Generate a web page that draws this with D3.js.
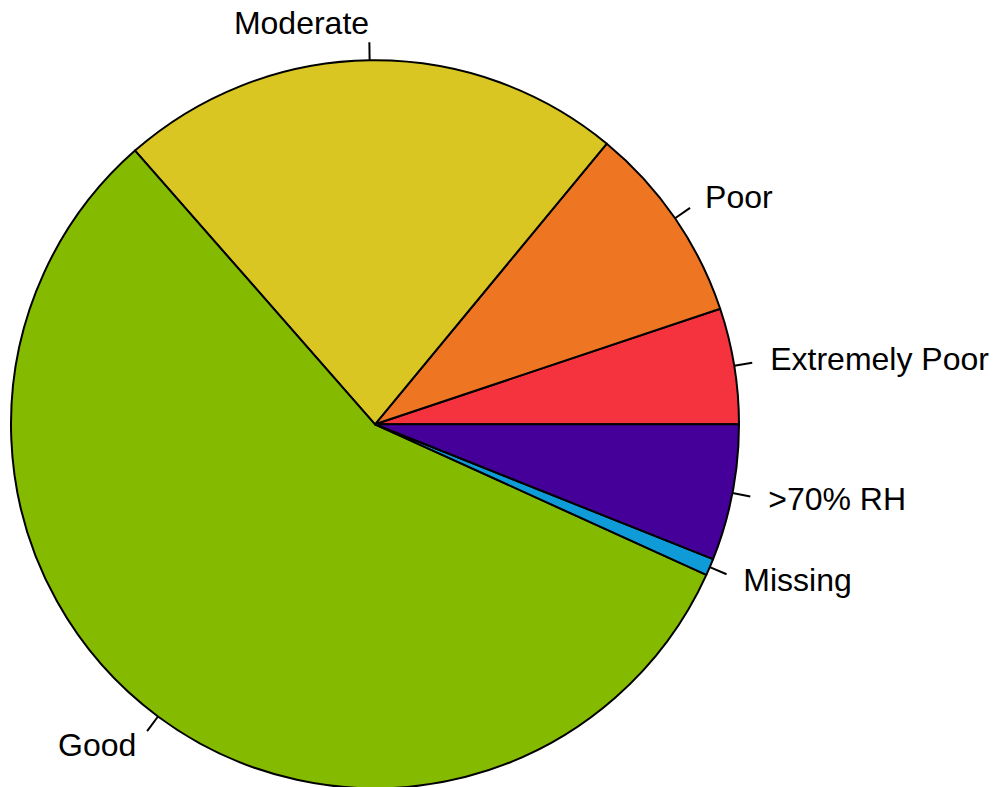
<!DOCTYPE html>
<html>
<head>
<meta charset="utf-8">
<script src="https://cdn.jsdelivr.net/npm/d3@7"></script>
<style>
html,body{margin:0;padding:0;background:#fff;}
svg{display:block;}
</style>
</head>
<body>
<svg id="chart" width="993" height="787"></svg>
<script>
const categories = ["Extremely Poor", "Poor", "Moderate", "Good", "Missing", ">70% RH"];
const values = [5.14, 8.87, 22.44, 56.74, 0.75, 6.04];
const colors = ["#F4333F", "#EE7623", "#D9C623", "#84BA00", "#0F9BD7", "#440099"];

const W = 993, H = 787;
const cx = 375, cy = 424.3, r = 364;
const svg = d3.select("#chart");
const g = svg.append("g").attr("transform", `translate(${cx},${cy})`);

const data = categories.map((c, i) => ({cat: c, value: values[i], color: colors[i]}));

// R-style pie: starts at 3 o'clock, runs counter-clockwise
const pie = d3.pie().value(d => d.value).sort(null)
  .startAngle(Math.PI / 2).endAngle(Math.PI / 2 - 2 * Math.PI);
const arcs = pie(data);
const arc = d3.arc().innerRadius(0).outerRadius(r);

g.selectAll("path.slice").data(arcs).enter().append("path")
  .attr("class", "slice")
  .attr("d", arc)
  .attr("fill", d => d.data.color)
  .attr("stroke", "#000")
  .attr("stroke-width", 2)
  .attr("stroke-linejoin", "round");

arcs.forEach(d => {
  const a = (d.startAngle + d.endAngle) / 2;
  const ux = Math.sin(a), uy = -Math.cos(a);
  g.append("line")
    .attr("x1", ux * r).attr("y1", uy * r)
    .attr("x2", ux * r * 1.05).attr("y2", uy * r * 1.05)
    .attr("stroke", "#000").attr("stroke-width", 2);
  g.append("text")
    .attr("x", ux * r * 1.1).attr("y", uy * r * 1.1)
    .attr("dy", 10)
    .attr("text-anchor", ux < 0 ? "end" : "start")
    .attr("font-family", "Liberation Sans, Arial, sans-serif")
    .attr("font-size", 32)
    .attr("fill", "#000")
    .text(d.data.cat);
});
</script>
</body>
</html>
